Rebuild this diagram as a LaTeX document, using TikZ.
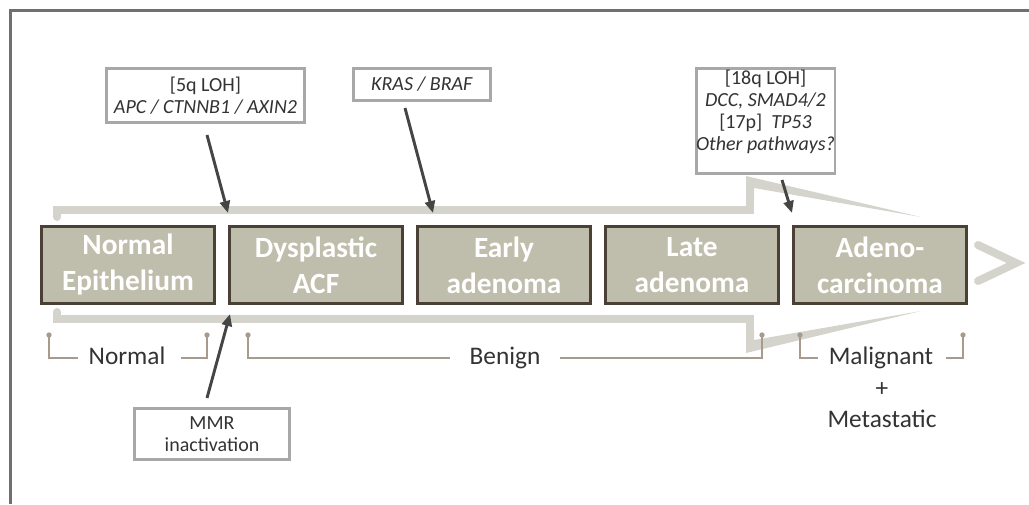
\documentclass[tikz,border=0pt]{standalone}
\usepackage{fontspec}
\setmainfont{Carlito}
\usetikzlibrary{arrows.meta}
\definecolor{stagefill}{HTML}{BFBDAB}
\definecolor{stageborder}{HTML}{4A4036}
\definecolor{outlinecol}{HTML}{D4D4CC}
\definecolor{annoborder}{HTML}{A8A8A8}
\definecolor{txt}{HTML}{333333}
\definecolor{arrowcol}{HTML}{454545}
\definecolor{brk}{HTML}{A89A8C}
\definecolor{framecol}{HTML}{707070}
\begin{document}
\begin{tikzpicture}[x=0.75pt,y=-0.75pt,
  stage/.style={draw=stageborder, line width=2.2pt, fill=stagefill, text=white,
    font=\bfseries\fontsize{22}{27}\selectfont, align=center, inner sep=0pt,
    minimum width=129.75pt, minimum height=57.75pt},
  anno/.style={draw=annoborder, line width=2.2pt, fill=white, text=txt,
    font=\fontsize{15}{16.5}\selectfont, align=center, inner sep=0pt},
  conn/.style={draw=arrowcol, line width=2.2pt, -{Triangle[length=9pt,width=7.5pt]}},
  band/.style={draw=outlinecol, line width=6pt},
  bracket/.style={draw=brk, line width=1.5pt},
  lbl/.style={text=txt, font=\fontsize{19}{23.6}\selectfont, inner sep=0pt, anchor=base},
]
\useasboundingbox (0,0) rectangle (1029,504);

% frame
\draw[framecol, line width=1.9pt] (10.5,504) -- (10.5,10.5) -- (1029,10.5);

% big arrow outline
\draw[band, line cap=round] (57,217) -- (57,210) -- (750,210) -- (750,182);
\fill[outlinecol] (746,176) -- (921,217) -- (754,188) -- (754,200) -- (746,200) -- cycle;
\draw[band, line cap=round] (57,312) -- (57,319) -- (750,319) -- (750,348);
\fill[outlinecol] (746,353) -- (921,311) -- (754,340) -- (754,330) -- (746,330) -- cycle;
\draw[band, line cap=round, line join=miter] (978,245) -- (1016,263) -- (978,281);

% stages
\node[stage] (s1) at (128,265) {Normal\\Epithelium};
\node[stage] (s2) at (316,265) {Dysplastic\\ACF};
\node[stage] (s3) at (504,265) {Early\\adenoma};
\node[stage] (s4) at (692,265) {Late\\adenoma};
\node[stage] (s5) at (880,265) {Adeno-\\carcinoma};

% annotation boxes
\node[anno, minimum width=148.5pt, minimum height=40.5pt] (a1) at (205.5,95.5)
  {[5q LOH]\\\textit{APC / CTNNB1 / AXIN2}};
\node[anno, minimum width=102.75pt, minimum height=24pt] (a2) at (422,84.5)
  {\textit{KRAS / BRAF}};
\node[anno, minimum width=101pt, minimum height=78.75pt] (a3) at (765.5,121)
  {[18q LOH]\\\textit{DCC, SMAD4/2}\\{[17p]}\ \ \textit{TP53}\\\textit{Other pathways?}\\\mbox{}};
\node[anno, minimum width=116.25pt, minimum height=38.25pt] (a4) at (212,434)
  {MMR\\inactivation};

% arrows
\coordinate (t1) at (207,135); \coordinate (h1) at (228,213);
\coordinate (t2) at (405,108); \coordinate (h2) at (433,213);
\coordinate (t3) at (782,180); \coordinate (h3) at (792,213);
\coordinate (t4) at (207,398); \coordinate (h4) at (230,314);
\draw[conn] (t1) -- (h1);
\draw[conn] (t2) -- (h2);
\draw[conn] (t3) -- (h3);
\draw[conn] (t4) -- (h4);

% bracket labels
\node[lbl] (lN) at (127,364) {Normal};
\node[lbl] (lB) at (505,364) {Benign};
\node[lbl] (lM) at (881,364) {Malignant};
\node[lbl] (lP) at (882,396) {+};
\node[lbl] (lMe) at (882,427) {Metastatic};

% brackets
\coordinate (n1) at (49,335); \coordinate (n2) at (78,358);
\coordinate (n3) at (181,358); \coordinate (n4) at (207,335);
\coordinate (b1) at (248,335); \coordinate (b2) at (450,358);
\coordinate (b3) at (560,358); \coordinate (b4) at (762,335);
\coordinate (m1) at (800,335); \coordinate (m2) at (818,358);
\coordinate (m3) at (946,358); \coordinate (m4) at (963,335);
\draw[bracket] (n1) |- (n2);
\draw[bracket] (n4) |- (n3);
\draw[bracket] (b1) |- (b2);
\draw[bracket] (b4) |- (b3);
\draw[bracket] (m1) |- (m2);
\draw[bracket] (m4) |- (m3);
\foreach \c in {n1,n4,b1,b4,m1,m4} \fill[brk] (\c) circle (2pt);
\end{tikzpicture}
\end{document}
